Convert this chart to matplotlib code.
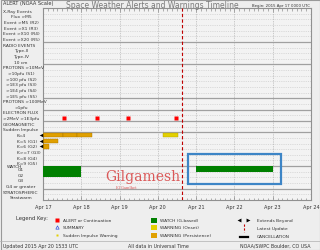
import matplotlib
matplotlib.use("Agg")
import matplotlib.pyplot as plt
import matplotlib.transforms as mtrans
from matplotlib.patches import Rectangle
from matplotlib.lines import Line2D

W, H = 320, 251

# ---------- data ----------
row_labels = [
    "X-Ray Events", "Flux >M5", "Event >M5 (R2)", "Event >X1 (R3)", "Event >X10 (R4)", "Event >X20 (R5)",
    "RADIO EVENTS", "Type-II", "Type-IV", "10 cm",
    "PROTONS >10MeV", ">10pfu (S1)", ">100 pfu (S2)", ">1E3 pfu (S3)", ">1E4 pfu (S4)", ">1E5 pfu (S5)",
    "PROTONS >100MeV", ">1pfu",
    "ELECTRON FLUX", ">2MeV >1E3pfu",
    "GEOMAGNETIC", "Sudden Impulse", "K=4", "K=5 (G1)", "K=6 (G2)", "K>=7 (G3)", "K=8 (G4)", "K=9 (G5)",
    "G1", "G2", "G3", "G4 or greater",
    "STRATOSPHERIC", "Stratwarm",
]
header_rows = ["X-Ray Events", "RADIO EVENTS", "PROTONS >10MeV", "PROTONS >100MeV",
               "ELECTRON FLUX", "GEOMAGNETIC", "Sudden Impulse", "STRATOSPHERIC", ">2MeV >1E3pfu"]
k_rows = ["K=4", "K=5 (G1)", "K=6 (G2)", "K>=7 (G3)", "K=8 (G4)", "K=9 (G5)"]
group_starts = ["RADIO EVENTS", "PROTONS >10MeV", "PROTONS >100MeV", "ELECTRON FLUX",
                "GEOMAGNETIC", "K=4", "G1", "STRATOSPHERIC"]

day_labels = ["Apr 17", "Apr 18", "Apr 19", "Apr 20", "Apr 21", "Apr 22", "Apr 23", "Apr 24"]

# times in days since 2015 Apr 17 0000 UTC
alert_row = ">2MeV >1E3pfu"
alert_times = [0.55, 1.41, 2.22, 3.47]

persist_rows = ["K=4", "K=4", "K=4", "K=5 (G1)", "K=6 (G2)"]
persist_start = [0.00, 0.52, 0.89, 0.00, 0.00]
persist_end = [0.52, 0.89, 1.28, 0.39, 0.16]

onset_rows = ["K=4"]
onset_start = [3.13]
onset_end = [3.52]

watch_rows = ["G1", "G2", "G1"]
watch_start = [0.0, 0.0, 4.0]
watch_end = [1.0, 1.0, 6.0]
highlight = 2          # watch boxed in blue

extends_rows = ["K=4", "K=5 (G1)", "K=6 (G2)"]
latest_update = 3.64   # 2015 Apr 20 1533 UTC

ORANGE = "#e0a000"
YELLOW = "#e3d000"
GREEN = "#008000"
RED = "#ff0000"
BG = "#eeeeee"
TXT = "#333333"

def px(x, y):
    return x / W, 1 - y / H

# ---------- figure ----------
fig = plt.figure(figsize=(W / 100, H / 100), dpi=100, facecolor=BG)
ax = fig.add_axes([43 / W, 1 - 201 / H, 268 / W, 192 / H], facecolor="#f3f3f3")
nrow = len(row_labels)
ridx = {lab: i + 0.5 for i, lab in enumerate(row_labels)}
ax.set_xlim(0, 7)
ax.set_ylim(nrow, 0)

for i in range(1, nrow):
    ax.axhline(i, color="#c4c4c4", lw=0.4, ls=(0, (2, 2)), zorder=1)
for lab in group_starts:
    ax.axhline(ridx[lab] - 0.5, color="#a0a0a0", lw=0.9, zorder=1)
for d in range(1, 7):
    ax.axvline(d, color="#a0a0a0", lw=0.5, ls=(0, (1, 1.5)), zorder=1)

ax.set_xticks(range(8))
ax.set_xticks([i / 8 for i in range(57)], minor=True)
ax.set_xticklabels(day_labels)
ax.set_yticks([])
ax.tick_params(axis="x", which="both", top=True, bottom=True, direction="in",
               color="#777777", width=0.4)
ax.tick_params(axis="x", which="major", length=3, labelsize=3.6, pad=3, labelcolor=TXT)
ax.tick_params(axis="x", which="minor", length=1.8)
for s in ax.spines.values():
    s.set_color("#909090")
    s.set_linewidth(0.8)

# marks
ax.plot(alert_times, [ridx[alert_row]] * len(alert_times), "s", color=RED,
        ms=2.2, mec="none", zorder=4)
ax.barh([ridx[r] for r in persist_rows], [e - s for s, e in zip(persist_start, persist_end)],
        left=persist_start, height=0.78, color=ORANGE, edgecolor="#a87400", lw=0.3, zorder=3)
ax.barh([ridx[r] for r in onset_rows], [e - s for s, e in zip(onset_start, onset_end)],
        left=onset_start, height=0.7, color=YELLOW, edgecolor="#b0a000", lw=0.3, zorder=3)
ax.barh([ridx[r] for r in watch_rows], [e - s for s, e in zip(watch_start, watch_end)],
        left=watch_start, height=1.02, color=GREEN, lw=0, zorder=3)
ax.plot([-0.06] * len(extends_rows), [ridx[r] for r in extends_rows], "<", color="black",
        ms=2.6, mec="none", clip_on=False, zorder=5)
ax.axvline(latest_update, color="#c00000", lw=0.8, ls=(0, (3, 2)), zorder=4)

# blue box around the highlighted watch
hs, he, hr = watch_start[highlight], watch_end[highlight], ridx[watch_rows[highlight]]
ax.add_patch(Rectangle((hs - 0.21, hr - 2.6), he - hs + 0.42, 5.3, fill=False,
                       ec="#3d85c6", lw=1.6, clip_on=False, zorder=6))

# row labels
tr = mtrans.blended_transform_factory(fig.transFigure, ax.transData)
for lab in row_labels:
    if lab in header_rows:
        ax.text(3 / W, ridx[lab], lab, transform=tr, fontsize=3.2, color=TXT, ha="left", va="center")
    elif lab in k_rows:
        ax.text(17 / W, ridx[lab], lab, transform=tr, fontsize=3.2, color=TXT, ha="left", va="center")
    else:
        ax.text(21 / W, ridx[lab], lab, transform=tr, fontsize=3.2, color=TXT, ha="center", va="center")
ax.text(7 / W, ridx["G1"] - 0.55, "WATCH", transform=tr, fontsize=3.2, color=TXT, ha="left", va="center")

# watermark
fig.text(*px(143, 177), "Gilgamesh", fontsize=10, family="DejaVu Serif", color="#d84848",
         alpha=0.9, ha="center", va="center")
fig.text(*px(116, 188), "El Gamlhet", fontsize=2.6, family="DejaVu Serif", color="#d84848",
         alpha=0.9, ha="left", va="center")

# header texts
fig.text(*px(3, 4), "ALERT (NOAA Scale)", fontsize=3.6, color=TXT, va="center")
fig.text(*px(66, 6), "Space Weather Alerts and Warnings Timeline", fontsize=5.5,
         color="#7a7a7a", va="center")
fig.text(*px(252, 6), "Begin: 2015 Apr 17 0000 UTC", fontsize=2.8, color=TXT, va="center")

# legend
fig.text(*px(16, 219), "Legend Key:", fontsize=3.8, color=TXT, va="center")
def key_marker(x, y, m, c, ms, mec="none"):
    fig.add_artist(Line2D([x / W], [1 - y / H], marker=m, color=c, ms=ms, mec=mec,
                          mew=0.5, ls="none", transform=fig.transFigure))
def key_box(x, y, w, h, c):
    fig.add_artist(Rectangle((x / W, 1 - (y + h / 2) / H), w / W, h / H, color=c,
                             lw=0, transform=fig.transFigure))
key_marker(57, 221, "s", RED, 2.2)
key_marker(57, 228, "^", "none", 2.4, mec="#3050e0")
key_marker(57, 236, "s", YELLOW, 1.8)
fig.text(*px(63, 221), "ALERT or Continuation", fontsize=3.2, color=TXT, va="center")
fig.text(*px(63, 228), "SUMMARY", fontsize=3.2, color=TXT, va="center")
fig.text(*px(63, 236), "Sudden Impulse Warning", fontsize=3.2, color=TXT, va="center")

key_box(151, 221, 6, 5, GREEN)
key_box(151, 228.5, 6, 5, YELLOW)
key_box(151, 236, 6, 5, ORANGE)
fig.text(*px(160, 221), "WATCH (G-based)", fontsize=3.2, color=TXT, va="center")
fig.text(*px(160, 228.5), "WARNING (Onset)", fontsize=3.2, color=TXT, va="center")
fig.text(*px(160, 236), "WARNING (Persistence)", fontsize=3.2, color=TXT, va="center")

key_marker(239, 221, "<", "black", 2.8)
key_marker(248, 221, ">", "black", 2.8)
fig.add_artist(Line2D([244 / W, 244 / W], [1 - 225 / H, 1 - 233 / H], color="#c00000",
                      lw=0.8, ls=(0, (2, 1.5)), transform=fig.transFigure))
fig.add_artist(Line2D([240 / W, 248 / W], [1 - 237.5 / H, 1 - 237.5 / H], color="black",
                      lw=1.6, transform=fig.transFigure))
fig.text(*px(257, 221), "Extends Beyond", fontsize=3.2, color=TXT, va="center")
fig.text(*px(257, 229), "Latest Update", fontsize=3.2, color=TXT, va="center")
fig.text(*px(257, 237), "CANCELLATION", fontsize=3.2, color=TXT, va="center")

# footer
fig.add_artist(Line2D([0, 1], [1 - 242 / H, 1 - 242 / H], color="#b0b0b0", lw=0.5,
                      transform=fig.transFigure))
fig.text(*px(3, 246.5), "Updated 2015 Apr 20 1533 UTC", fontsize=3.4, color=TXT, va="center")
fig.text(*px(128, 246.5), "All data in Universal Time", fontsize=3.4, color=TXT, va="center")
fig.text(*px(311, 246.5), "NOAA/SWPC Boulder, CO USA", fontsize=3.4, color=TXT, va="center", ha="right")
fig.add_artist(Rectangle((0.5 / W, 0.5 / H), (W - 1) / W, (H - 1) / H, fill=False,
                         ec="#999999", lw=0.8, transform=fig.transFigure))

fig.savefig("out.png", dpi=100, facecolor=BG)
